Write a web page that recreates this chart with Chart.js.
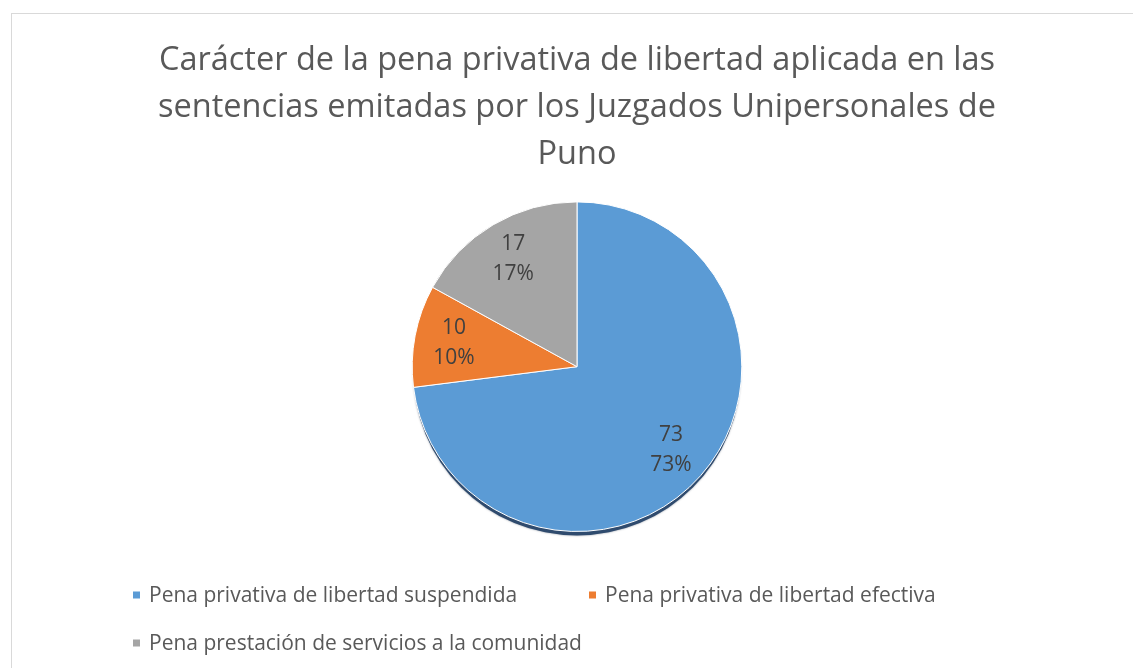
<!DOCTYPE html>
<html>
<head>
<meta charset="utf-8">
<script src="https://cdn.jsdelivr.net/npm/chart.js@4.4.0/dist/chart.umd.min.js"></script>
<style>
  body { margin: 0; background: #fff; overflow: hidden; }
  #frame { position: absolute; left: 11px; top: 13px; width: 1140px; height: 680px; border: 1px solid #d9d9d9; }
  #penaChart { position: absolute; left: 0; top: 0; }
</style>
</head>
<body>
<div id="frame"></div>
<canvas id="penaChart" width="1133" height="668"></canvas>
<script>
const titleLines = [
  "Carácter de la pena privativa de libertad aplicada en las",
  "sentencias emitadas por los Juzgados Unipersonales de",
  "Puno",
];
const categories = [
  "Pena privativa de libertad suspendida",
  "Pena privativa de libertad efectiva",
  "Pena prestación de servicios a la comunidad",
];
const values = [73, 10, 17];
const colors = ["#5B9BD5", "#ED7D31", "#A5A5A5"];

const FONT = "'Open Sans', 'DejaVu Sans', sans-serif";

// sombra oscura debajo del pastel (efecto de Excel)
const pieShadow = {
  id: "pieShadow",
  beforeDatasetsDraw(chart) {
    const arc = chart.getDatasetMeta(0).data[0];
    if (!arc) return;
    const { x, y, outerRadius } = arc.getProps(["x", "y", "outerRadius"], true);
    const ctx = chart.ctx;
    ctx.save();
    ctx.fillStyle = "#2f4b6e";
    ctx.shadowColor = "rgba(20,35,60,0.5)";
    ctx.shadowBlur = 2;
    ctx.beginPath();
    ctx.arc(x, y + 5, outerRadius - 1, 0, Math.PI * 2);
    ctx.fill();
    ctx.restore();
  },
};

// etiquetas: valor y porcentaje dentro de cada sector
const sliceLabels = {
  id: "sliceLabels",
  afterDatasetsDraw(chart) {
    const ctx = chart.ctx;
    const data = chart.data.datasets[0].data;
    const total = data.reduce((a, b) => a + b, 0);
    chart.getDatasetMeta(0).data.forEach((arc, i) => {
      const p = arc.getProps(["x", "y", "startAngle", "endAngle", "outerRadius"], true);
      const mid = (p.startAngle + p.endAngle) / 2;
      const r = p.outerRadius * 0.76;
      const cx = p.x + Math.cos(mid) * r;
      const cy = p.y + Math.sin(mid) * r;
      ctx.save();
      ctx.fillStyle = "#404040";
      ctx.font = "21px " + FONT;
      ctx.textAlign = "center";
      ctx.textBaseline = "middle";
      ctx.fillText(String(data[i]), cx, cy - 15);
      ctx.fillText(Math.round((data[i] / total) * 100) + "%", cx, cy + 15);
      ctx.restore();
    });
  },
};

// leyenda abajo, alineada a la izquierda como en Excel
const bottomLegend = {
  id: "bottomLegend",
  afterDraw(chart) {
    const ctx = chart.ctx;
    const spots = [
      [133, 595],
      [589, 595],
      [133, 643],
    ];
    ctx.save();
    ctx.font = "21px " + FONT;
    ctx.textBaseline = "middle";
    chart.data.labels.forEach((label, i) => {
      const [x, y] = spots[i];
      ctx.fillStyle = chart.data.datasets[0].backgroundColor[i];
      ctx.fillRect(x, y - 3.5, 7, 7);
      ctx.fillStyle = "#595959";
      ctx.fillText(label, x + 16, y + 1);
    });
    ctx.restore();
  },
};

const ctx = document.getElementById("penaChart").getContext("2d");

let pieChart = new Chart(ctx, {
  type: "pie",
  data: {
    labels: categories,
    datasets: [
      {
        data: values,
        backgroundColor: colors,
        borderColor: "#ffffff",
        borderWidth: 1,
      },
    ],
  },
  options: {
    responsive: false,
    animation: false,
    layout: {
      padding: { left: 120, right: 99, top: 0, bottom: 136 },
    },
    plugins: {
      legend: { display: false },
      tooltip: { enabled: false },
      title: {
        display: true,
        text: titleLines,
        color: "#595959",
        font: { family: FONT, size: 32.5, weight: "normal", lineHeight: 1.45 },
        padding: { top: 37, bottom: 23 },
      },
    },
  },
  plugins: [pieShadow, sliceLabels, bottomLegend],
});
</script>
</body>
</html>
